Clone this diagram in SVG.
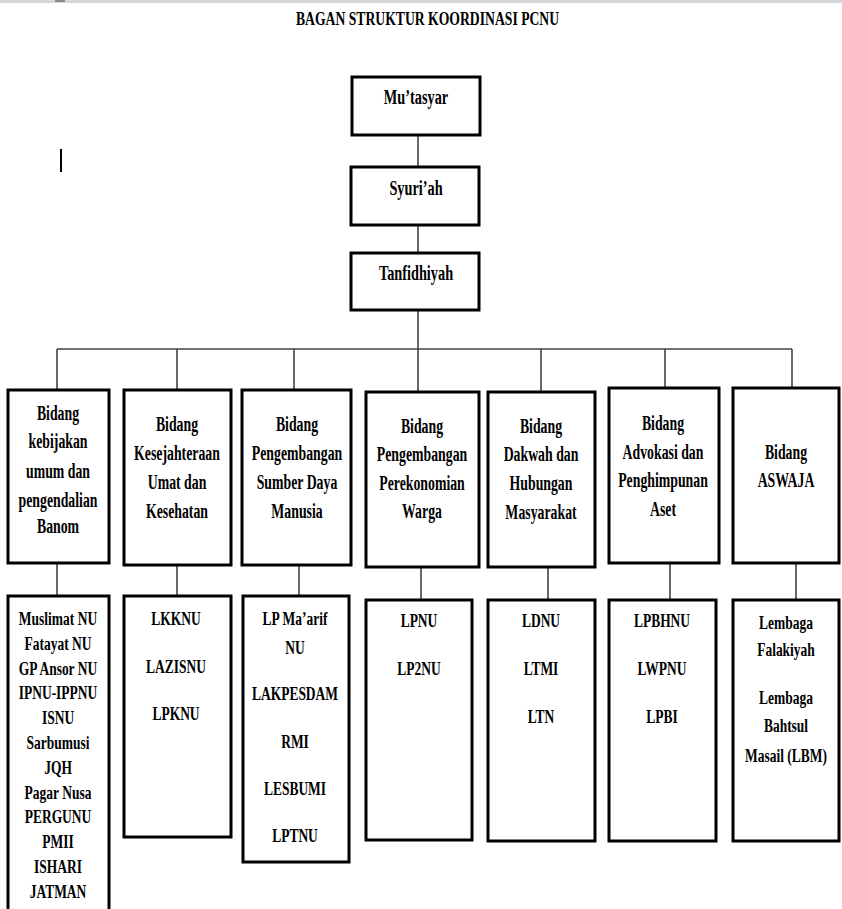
<svg xmlns="http://www.w3.org/2000/svg" width="842" height="909" viewBox="0 0 842 909">
<style>
.box{fill:#fff;stroke:#000;stroke-width:3}
.con{fill:none;stroke:#444;stroke-width:1.6}
text{font-family:"Liberation Serif","Times New Roman",serif;font-weight:bold;fill:#000;text-anchor:middle}
.t1 text{font-size:22px}
.t2 text{font-size:20px}
.t3 text{font-size:19px}
</style>
<rect x="0" y="0" width="842" height="3" fill="#d4d7dc"/>
<rect x="55" y="0" width="10" height="2" fill="#8a8a8a"/>
<rect x="60" y="149" width="2" height="23" fill="#000"/>
<text transform="matrix(0.72 0 0 1 427.5 0)" x="0" y="25" font-size="19">BAGAN STRUKTUR KOORDINASI  PCNU</text>

<g id="connectors">
<path class="con" d="M418 135V167M418 225V253M418 310V392M57 349H792M57 349V390M177 349V390M294 349V390M541 349V392M665 349V388M792 349V388"/>
<path class="con" d="M57 563V596M177 565V596M299 565V596M421 567V600M548 567V600M670 563V600M796 563V600"/>
</g>

<g id="mutasyar" class="t1"><rect class="box" x="352" y="77" width="128" height="58"/>
<g transform="matrix(0.65 0 0 1 416 0)"><text x="0" y="104">Mu’tasyar</text></g></g>
<g id="syuriah" class="t1"><rect class="box" x="351" y="167" width="128" height="58"/>
<g transform="matrix(0.65 0 0 1 416 0)"><text x="0" y="195">Syuri’ah</text></g></g>
<g id="tanfidhiyah" class="t1"><rect class="box" x="351" y="253" width="128" height="57"/>
<g transform="matrix(0.65 0 0 1 416 0)"><text x="0" y="280">Tanfidhiyah</text></g></g>

<g id="bidang1" class="t2"><rect class="box" x="8" y="390" width="101" height="173"/>
<g transform="matrix(0.69 0 0 1 58 0)"><text x="0" y="420">Bidang</text><text x="0" y="448">kebijakan</text><text x="0" y="478">umum dan</text><text x="0" y="507">pengendalian</text><text x="0" y="533">Banom</text></g></g>
<g id="bidang2" class="t2"><rect class="box" x="124" y="390" width="107" height="175"/>
<g transform="matrix(0.69 0 0 1 177 0)"><text x="0" y="431">Bidang</text><text x="0" y="460">Kesejahteraan</text><text x="0" y="489">Umat dan</text><text x="0" y="518">Kesehatan</text></g></g>
<g id="bidang3" class="t2"><rect class="box" x="242" y="390" width="109" height="175"/>
<g transform="matrix(0.69 0 0 1 297 0)"><text x="0" y="431">Bidang</text><text x="0" y="460">Pengembangan</text><text x="0" y="489">Sumber Daya</text><text x="0" y="518">Manusia</text></g></g>
<g id="bidang4" class="t2"><rect class="box" x="366" y="392" width="113" height="175"/>
<g transform="matrix(0.69 0 0 1 422 0)"><text x="0" y="433">Bidang</text><text x="0" y="461">Pengembangan</text><text x="0" y="490">Perekonomian</text><text x="0" y="518">Warga</text></g></g>
<g id="bidang5" class="t2"><rect class="box" x="488" y="392" width="107" height="175"/>
<g transform="matrix(0.69 0 0 1 541 0)"><text x="0" y="433">Bidang</text><text x="0" y="461">Dakwah dan</text><text x="0" y="490">Hubungan</text><text x="0" y="519">Masyarakat</text></g></g>
<g id="bidang6" class="t2"><rect class="box" x="609" y="388" width="110" height="175"/>
<g transform="matrix(0.69 0 0 1 663 0)"><text x="0" y="430">Bidang</text><text x="0" y="459">Advokasi dan</text><text x="0" y="487">Penghimpunan</text><text x="0" y="516">Aset</text></g></g>
<g id="bidang7" class="t2"><rect class="box" x="733" y="388" width="106" height="175"/>
<g transform="matrix(0.69 0 0 1 786 0)"><text x="0" y="459">Bidang</text><text x="0" y="487">ASWAJA</text></g></g>

<g id="banom" class="t3"><rect class="box" x="8" y="596" width="101" height="320"/>
<g transform="matrix(0.71 0 0 1 58 0)"><text x="0" y="625">Muslimat NU</text><text x="0" y="650">Fatayat NU</text><text x="0" y="675">GP Ansor NU</text><text x="0" y="699">IPNU-IPPNU</text><text x="0" y="724">ISNU</text><text x="0" y="749">Sarbumusi</text><text x="0" y="774">JQH</text><text x="0" y="799">Pagar Nusa</text><text x="0" y="823">PERGUNU</text><text x="0" y="848">PMII</text><text x="0" y="873">ISHARI</text><text x="0" y="898">JATMAN</text></g></g>
<g id="lembaga2" class="t3"><rect class="box" x="124" y="596" width="107" height="241"/>
<g transform="matrix(0.71 0 0 1 176 0)"><text x="0" y="625">LKKNU</text><text x="0" y="673">LAZISNU</text><text x="0" y="720">LPKNU</text></g></g>
<g id="lembaga3" class="t3"><rect class="box" x="243" y="596" width="106" height="266"/>
<g transform="matrix(0.71 0 0 1 295 0)"><text x="0" y="625">LP Ma’arif</text><text x="0" y="654">NU</text><text x="0" y="700">LAKPESDAM</text><text x="0" y="748">RMI</text><text x="0" y="795">LESBUMI</text><text x="0" y="842">LPTNU</text></g></g>
<g id="lembaga4" class="t3"><rect class="box" x="366" y="600" width="106" height="240"/>
<g transform="matrix(0.71 0 0 1 419 0)"><text x="0" y="627">LPNU</text><text x="0" y="675">LP2NU</text></g></g>
<g id="lembaga5" class="t3"><rect class="box" x="488" y="600" width="107" height="241"/>
<g transform="matrix(0.71 0 0 1 541 0)"><text x="0" y="627">LDNU</text><text x="0" y="675">LTMI</text><text x="0" y="723">LTN</text></g></g>
<g id="lembaga6" class="t3"><rect class="box" x="609" y="600" width="107" height="241"/>
<g transform="matrix(0.71 0 0 1 662 0)"><text x="0" y="627">LPBHNU</text><text x="0" y="675">LWPNU</text><text x="0" y="723">LPBI</text></g></g>
<g id="lembaga7" class="t3"><rect class="box" x="733" y="600" width="106" height="241"/>
<g transform="matrix(0.71 0 0 1 786 0)"><text x="0" y="629">Lembaga</text><text x="0" y="656">Falakiyah</text><text x="0" y="704">Lembaga</text><text x="0" y="732">Bahtsul</text><text x="0" y="762">Masail (LBM)</text></g></g>
</svg>
